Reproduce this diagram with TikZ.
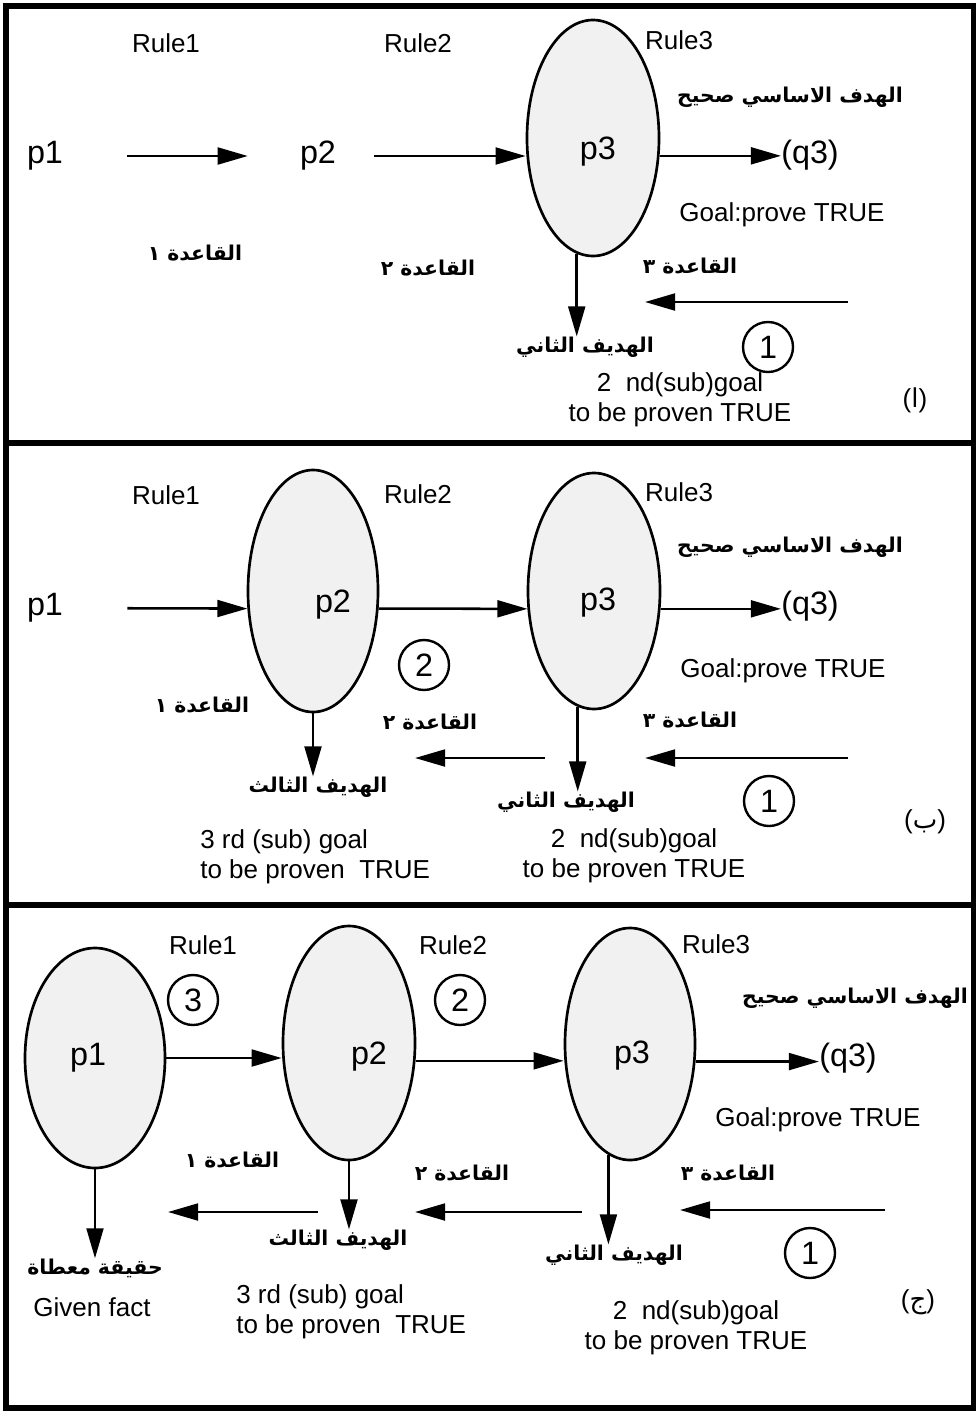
\documentclass[tikz,border=0pt]{standalone}
\usepackage{fontspec}
\setmainfont{Liberation Sans}
\newfontfamily\arabicfont[Script=Arabic]{DejaVu Sans}
\TeXXeTstate=1
\usetikzlibrary{arrows.meta,shapes.geometric,positioning}
\tikzset{
  txt/.style={font=\fontsize{18.5}{21}\selectfont, inner sep=0pt},
  twoline/.style={txt, align=center},
  prop/.style={font=\fontsize{23}{25}\selectfont, inner sep=0pt},
  artxt/.style={font=\fontsize{14.5}{18}\selectfont\arabicfont\bfseries, inner sep=0pt},
  premise/.style={
    ellipse, draw, line width=1.9pt, fill=gray!11,
    minimum width=33mm, minimum height=59mm, inner sep=0pt
  },
  stepnum/.style={circle, draw, line width=1.7pt, minimum size=12.5mm,
    inner sep=0pt, font=\fontsize{23}{25}\selectfont},
  arrow/.style={-{Triangle[length=7.5mm,width=4.2mm]}, line width=1.8pt},
  frame/.style={line width=4pt}
}
\newcommand{\ar}[1]{\beginR #1\endR}

\begin{document}
\begin{tikzpicture}[x=0.25mm,y=-0.25mm]
\useasboundingbox (0,0) rectangle (976,1414);
\draw[frame] (6,6) rectangle (974,1408);
\draw[frame] (6,443) -- (974,443);
\draw[frame] (6,905) -- (974,905);

% (a)
\node[txt] (a-r1) at (166,43) {Rule1};
\node[txt] (a-r2) at (418,43) {Rule2};
\node[txt] (a-r3) at (679,40) {Rule3};
\node[prop] (a-p1) at (45,156) {p1};
\node[prop] (a-p2) at (318,156) {p2};
\node[premise, label={[prop,xshift=1.2mm,yshift=-3.5mm]center:p3}] (a-p3) at (593,138) {};
\node[prop] (a-q3) at (810,155) {(q3)};
\node[artxt] (a-goal) at (790,97) {\ar{الهدف الاساسي صحيح}};
\node[txt] (a-prove) at (782,215) {Goal:prove TRUE};
\node[artxt] (a-k1) at (195,253) {\ar{القاعدة ١}};
\node[artxt] (a-k2) at (428,268) {\ar{القاعدة ٢}};
\node[artxt] (a-k3) at (690,266) {\ar{القاعدة ٣}};
\node[artxt] (a-s2) at (585,347) {\ar{الهديف الثاني}};
\node[stepnum] (a-c1) at (768,347) {1};
\node[twoline] (a-t2) at (680,400) {2\ \ nd(sub)goal\\to be proven TRUE};
\node[txt] (a-tag) at (915,400) {({\arabicfont ا})};
\coordinate (a-b3s) at (848,302);
\coordinate (a-b3e) at (645,302);
\draw[arrow, shorten <=16mm, shorten >=13mm] (a-p1) -- (a-p2);
\draw[arrow, shorten <=9.5mm] (a-p2) -- (a-p2 -| a-p3.west);
\draw[arrow] (a-p3.-15) -- (a-p3.-15 -| a-q3.west);
\draw[arrow] (a-p3.-98) -- (a-p3.-98 |- a-s2.north);
\draw[arrow] (a-b3s) -- (a-b3e);

% (b)
\node[txt] (b-r1) at (166,495) {Rule1};
\node[txt] (b-r2) at (418,494) {Rule2};
\node[txt] (b-r3) at (679,492) {Rule3};
\node[prop] (b-p1) at (45,608) {p1};
\node[premise, minimum width=32.5mm, minimum height=60.5mm,
  label={[prop,xshift=5mm,yshift=-3.5mm]center:p2}] (b-p2) at (313,591) {};
\node[premise, label={[prop,xshift=1mm,yshift=-2.8mm]center:p3}] (b-p3) at (594,591) {};
\node[prop] (b-q3) at (810,606) {(q3)};
\node[artxt] (b-goal) at (790,547) {\ar{الهدف الاساسي صحيح}};
\node[txt] (b-prove) at (783,671) {Goal:prove TRUE};
\node[stepnum] (b-c2) at (424,665) {2};
\node[stepnum] (b-c1) at (769,801) {1};
\node[artxt] (b-k1) at (202,705) {\ar{القاعدة ١}};
\node[artxt] (b-k2) at (430,722) {\ar{القاعدة ٢}};
\node[artxt] (b-k3) at (690,720) {\ar{القاعدة ٣}};
\node[artxt] (b-s3) at (318,787) {\ar{الهديف الثالث}};
\node[artxt] (b-s2) at (566,802) {\ar{الهديف الثاني}};
\node[txt, align=left, anchor=west] (b-t3) at (200,857) {3 rd (sub) goal\\to be proven\ \ TRUE};
\node[twoline] (b-t2) at (634,856) {2\ \ nd(sub)goal\\to be proven TRUE};
\node[txt] (b-tag) at (925,822) {({\arabicfont ب})};
\coordinate (b-b2s) at (545,758);
\coordinate (b-b2e) at (415,758);
\coordinate (b-b3s) at (848,758);
\coordinate (b-b3e) at (645,758);
\draw[arrow, shorten <=16mm] (b-p1) -- (b-p2.195);
\draw[arrow] (b-p2.-15) -- (b-p3.195);
\draw[arrow] (b-p3.-15) -- (b-p3.-15 -| b-q3.west);
\draw[arrow] (b-p2.south) -- (b-p2.south |- b-s3.north);
\draw[arrow] (b-p3.-98) -- (b-p3.-98 |- b-s2.north);
\draw[arrow] (b-b2s) -- (b-b2e);
\draw[arrow] (b-b3s) -- (b-b3e);

% (c)
\node[txt] (c-r1) at (203,945) {Rule1};
\node[txt] (c-r2) at (453,945) {Rule2};
\node[txt] (c-r3) at (716,944) {Rule3};
\node[premise, minimum width=35mm, minimum height=55mm,
  label={[prop,xshift=-1.7mm]center:p1}] (c-p1) at (95,1058) {};
\node[premise, minimum height=58.5mm,
  label={[prop,xshift=5mm,yshift=-3.5mm]center:p2}] (c-p2) at (349,1043) {};
\node[premise, minimum width=32.5mm, minimum height=58mm,
  label={[prop,xshift=0.5mm,yshift=-2.8mm]center:p3}] (c-p3) at (630,1044) {};
\node[prop] (c-q3) at (848,1058) {(q3)};
\node[stepnum] (c-c3) at (193,1000) {3};
\node[stepnum] (c-c2) at (460,1000) {2};
\node[stepnum] (c-c1) at (810,1253) {1};
\node[artxt] (c-goal) at (855,998) {\ar{الهدف الاساسي صحيح}};
\node[txt] (c-prove) at (818,1120) {Goal:prove TRUE};
\node[artxt] (c-k1) at (232,1160) {\ar{القاعدة ١}};
\node[artxt] (c-k2) at (462,1173) {\ar{القاعدة ٢}};
\node[artxt] (c-k3) at (728,1173) {\ar{القاعدة ٣}};
\node[artxt] (c-fact) at (95,1268) {\ar{حقيقة معطاة}};
\node[txt] (c-given) at (92,1307) {Given fact};
\node[artxt] (c-s3) at (338,1240) {\ar{الهديف الثالث}};
\node[artxt] (c-s2) at (614,1255) {\ar{الهديف الثاني}};
\node[txt, align=left, anchor=west] (c-t3) at (236,1312) {3 rd (sub) goal\\to be proven\ \ TRUE};
\node[twoline] (c-t2) at (696,1328) {2\ \ nd(sub)goal\\to be proven TRUE};
\node[txt] (c-tag) at (918,1302) {({\arabicfont ج})};
\coordinate (c-b1s) at (318,1212);
\coordinate (c-b1e) at (168,1212);
\coordinate (c-b2s) at (582,1212);
\coordinate (c-b2e) at (415,1212);
\coordinate (c-b3s) at (885,1210);
\coordinate (c-b3e) at (680,1210);
\draw[arrow] (c-p1.east) -- (c-p1.east -| c-p2.west);
\draw[arrow] (c-p2.-15) -- (c-p2.-15 -| c-p3.west);
\draw[arrow] (c-p3.-15) -- (c-p3.-15 -| c-q3.west);
\draw[arrow] (c-p1.south) -- (c-p1.south |- c-fact.north);
\draw[arrow] (c-p2.south) -- (c-p2.south |- c-s3.north);
\draw[arrow] (c-p3.-101) -- (c-p3.-101 |- c-s2.north);
\draw[arrow] (c-b1s) -- (c-b1e);
\draw[arrow] (c-b2s) -- (c-b2e);
\draw[arrow] (c-b3s) -- (c-b3e);
\end{tikzpicture}
\end{document}
